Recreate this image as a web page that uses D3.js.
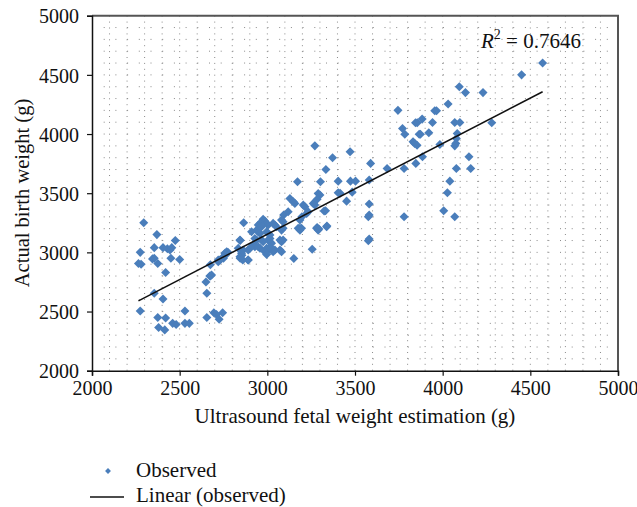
<!DOCTYPE html>
<html>
<head>
<meta charset="utf-8">
<script src="https://cdn.jsdelivr.net/npm/d3@7"></script>
<style>
  body { margin: 0; background: #fff; }
  text { font-family: "Liberation Serif", "DejaVu Serif", serif; fill: #111; }
</style>
</head>
<body>
<svg id="chart"></svg>
<script>
const width = 637;
const height = 507;

// observed points: ultrasound estimate (g)
const estWeight = [
  2295, 2275, 2265, 2280, 2370, 2355, 2345, 2355, 2375, 2420, 2405, 2430, 2445, 2455, 2475, 2450, 2500,
  2355, 2405, 2275, 2375, 2420, 2380, 2415, 2460, 2480, 2530, 2530, 2555, 2655, 2695, 2710, 2725, 2745,
  2655, 2650, 2675, 2675, 2720, 2750, 2760, 2775, 2845, 2865, 2855, 2845, 2860, 2890, 2910,
  2939, 2948, 2958, 2976, 2986, 2996, 3005, 2958, 2948, 2967, 3033, 3043, 3052, 2996, 3005, 3015, 3015,
  3081, 3090, 3176, 3186, 3195, 3281, 3290, 3338, 2844, 2929, 2939, 2967, 2976, 3005, 3015, 3024,
  3072, 3081, 3090, 2919, 2929, 2901, 2891, 2948, 2958, 2996, 3005, 3024, 3033, 3043, 3072, 3081,
  2862, 2853, 2844, 2834, 2891, 2986, 2996, 3015, 3256, 3151, 2768, 2758, 2749, 2730, 2720, 2682, 2672,
  3093, 3081, 3090, 3186, 3119, 3224, 3233, 3205, 3214, 3262, 3271, 3129, 3148, 3157, 3290, 3300, 3324,
  3172, 3303, 3334, 3186, 3284, 3294, 3197,
  3271, 3472, 3372, 3589, 3683, 3780, 3847, 3885, 3404, 3474, 3503, 3581, 3404, 3415, 3484, 3452, 3284,
  3332, 3581, 3581, 3576, 3780, 3340, 3581, 3576, 4031, 3955, 3965, 3745, 3771, 3784, 3845, 3855, 3883,
  3942, 3866, 3873, 3921, 4069, 4098, 4083, 4078, 4075, 4069, 3831, 3840, 3854, 3984, 4280, 4150, 4160,
  4078, 4041, 4027, 4006, 4069, 4095, 4130, 4230, 4450, 4570
];
// observed points: actual birth weight (g)
const birthWeight = [
  3250, 3000, 2905, 2900, 3150, 3040, 2945, 2950, 2905, 2830, 3040, 3030, 3020, 3040, 3100, 2950, 2940,
  2655, 2605, 2505, 2450, 2445, 2365, 2345, 2400, 2390, 2505, 2400, 2400, 2450, 2490, 2475, 2435, 2490,
  2655, 2750, 2800, 2895, 2935, 2950, 2975, 3000, 3100, 3250, 2975, 2950, 2935, 2935, 3175,
  3188, 3174, 3160, 3279, 3264, 3245, 3231, 3245, 3231, 3216, 3245, 3231, 3216, 3174, 3160, 3146, 3118,
  3188, 3203, 3203, 3188, 3203, 3203, 3188, 3216, 3104, 3118, 3104, 3104, 3090, 3104, 3090, 3076,
  3104, 3090, 3104, 3062, 3047, 3034, 3020, 3047, 3034, 3034, 3020, 3020, 3005, 3020, 3020, 3005,
  3020, 2992, 2963, 3034, 2935, 3005, 2983, 3047, 3026, 2949, 3005, 2992, 2963, 2935, 2921, 2808, 2800,
  3315, 3273, 3258, 3273, 3343, 3329, 3343, 3400, 3385, 3414, 3400, 3456, 3427, 3414, 3498, 3484, 3349,
  3596, 3596, 3700, 3203, 3211, 3197, 3301,
  3900, 3850, 3800, 3752, 3709, 3709, 3752, 3808, 3602, 3602, 3602, 3611, 3503, 3500, 3509, 3433, 3448,
  3351, 3408, 3315, 3301, 3301, 3222, 3112, 3098, 4253, 4196, 4196, 4200, 4047, 3999, 4095, 4095, 4126,
  4098, 3999, 3999, 4011, 4098, 4098, 4005, 3963, 3921, 3900, 3934, 3921, 3906, 3912, 4095, 3808, 3709,
  3709, 3602, 3503, 3351, 3301, 4400, 4350, 4350, 4500, 4600
];

// linear trend line ends
const trendX = [2265, 4570];
const trendY = [2590, 4357];

const xTicks = [2000, 2500, 3000, 3500, 4000, 4500, 5000];
const yTicks = [2000, 2500, 3000, 3500, 4000, 4500, 5000];
const r2Value = "0.7646";
const legendLabels = ["Observed", "Linear (observed)"];

const margin = { left: 92, top: 15.7, right: 19, bottom: 136.3 };
const plotW = width - margin.left - margin.right;
const plotH = height - margin.top - margin.bottom;

const svg = d3.select("#chart")
    .attr("width", width)
    .attr("height", height);

const x = d3.scaleLinear().domain([2000, 5000]).range([0, plotW]);
const y = d3.scaleLinear().domain([2000, 5000]).range([plotH, 0]);

const g = svg.append("g")
    .attr("transform", `translate(${margin.left},${margin.top})`);

// dotted grid
const gridSteps = d3.range(2100, 5000, 100);
g.append("g").selectAll("line")
    .data(gridSteps)
    .join("line")
    .attr("x1", d => x(d)).attr("x2", d => x(d))
    .attr("y1", plotH).attr("y2", 0)
    .attr("stroke", "#8a8a8a")
    .attr("stroke-width", 1)
    .attr("stroke-dasharray", "1,4.9");

g.append("g").selectAll("line")
    .data(gridSteps)
    .join("line")
    .attr("x1", 0).attr("x2", plotW)
    .attr("y1", d => y(d)).attr("y2", d => y(d))
    .attr("stroke", "#8a8a8a")
    .attr("stroke-width", 1)
    .attr("stroke-dasharray", "1,10.7");

// frame top/right
g.append("path")
    .attr("d", `M0,0H${plotW}V${plotH}`)
    .attr("fill", "none")
    .attr("stroke", "#555")
    .attr("stroke-width", 2);

// axes
const xAxis = g.append("g")
    .attr("transform", `translate(0,${plotH})`)
    .call(d3.axisBottom(x).tickValues(xTicks).tickSize(5).tickPadding(5).tickFormat(d3.format("d")));
const yAxis = g.append("g")
    .call(d3.axisLeft(y).tickValues(yTicks).tickSize(5).tickPadding(8).tickFormat(d3.format("d")));

[xAxis, yAxis].forEach(a => {
    a.select(".domain").attr("stroke", "#111").attr("stroke-width", 1.5);
    a.selectAll(".tick line").attr("stroke", "#111").attr("stroke-width", 1.2);
    a.selectAll(".tick text")
        .style("font-family", '"Liberation Serif", serif')
        .style("font-size", "20px")
        .attr("fill", "#111");
});
yAxis.selectAll(".tick text").attr("dy", "0.36em");

// points
const pts = d3.zip(estWeight, birthWeight);
const diamond = d3.symbol().type(d3.symbolDiamond2).size(52);
g.append("g").selectAll("path")
    .data(pts)
    .join("path")
    .attr("d", diamond)
    .attr("transform", d => `translate(${x(d[0])},${y(d[1])})`)
    .attr("fill", "#4a7ebb");

// trend line
g.append("line")
    .attr("x1", x(trendX[0])).attr("y1", y(trendY[0]))
    .attr("x2", x(trendX[1])).attr("y2", y(trendY[1]))
    .attr("stroke", "#111")
    .attr("stroke-width", 1.5);

// R^2 label
const r2 = svg.append("text")
    .attr("x", 481).attr("y", 48)
    .style("font-size", "21px");
r2.append("tspan").style("font-style", "italic").text("R");
r2.append("tspan").attr("dy", -9).style("font-size", "14px").text("2");
r2.append("tspan").attr("dy", 9).text(` = ${r2Value}`);

// axis titles
svg.append("text")
    .attr("x", margin.left + plotW / 2)
    .attr("y", 423)
    .attr("text-anchor", "middle")
    .style("font-size", "21px")
    .text("Ultrasound fetal weight estimation (g)");

svg.append("text")
    .attr("transform", "translate(29,193) rotate(-90)")
    .attr("text-anchor", "middle")
    .style("font-size", "20.5px")
    .text("Actual birth weight (g)");

// legend
svg.append("path")
    .attr("d", d3.symbol().type(d3.symbolDiamond2).size(22))
    .attr("transform", "translate(108,471)")
    .attr("fill", "#4a7ebb");
svg.append("line")
    .attr("x1", 90).attr("x2", 124)
    .attr("y1", 497).attr("y2", 497)
    .attr("stroke", "#111")
    .attr("stroke-width", 1.5);
svg.selectAll(".legend-label")
    .data(legendLabels)
    .join("text")
    .attr("class", "legend-label")
    .attr("x", 136)
    .attr("y", (d, i) => 477 + i * 25)
    .style("font-size", "21px")
    .text(d => d);
</script>
</body>
</html>
